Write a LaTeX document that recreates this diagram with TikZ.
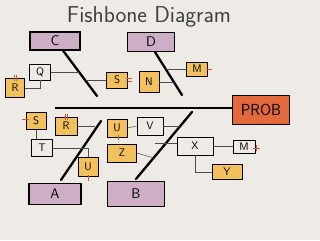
\documentclass[tikz,border=0pt]{standalone}
\usetikzlibrary{calc}
\definecolor{paper}{HTML}{EEEBE6}
\definecolor{lilac}{HTML}{CDAEC6}
\definecolor{amber}{HTML}{F2C15E}
\definecolor{probred}{HTML}{E2693C}
\definecolor{tickred}{HTML}{D9542B}
\tikzset{
  cause/.style={draw, line width=1.1pt, fill=lilac, inner sep=0pt,
    font=\sffamily\fontsize{14}{14}\selectfont},
  item/.style={draw, line width=0.6pt, inner sep=0pt, minimum width=21pt,
    minimum height=16pt, font=\sffamily\fontsize{11}{11}\selectfont},
  hot/.style={item, fill=amber},
  bone/.style={line width=2.3pt, line cap=round},
  link/.style={line width=0.5pt, black!70},
  tick/.style={tickred, line width=0.6pt},
}
\begin{document}
\begin{tikzpicture}[x=1pt,y=-1pt]
  \fill[paper] (0,0) rectangle (320,240);
  \useasboundingbox (0,0) rectangle (320,240);
  \node[font=\sffamily\fontsize{23}{23}\selectfont, black!75] (title) at (149,17) {Fishbone Diagram};

  % main causes and the problem
  \node[cause, minimum width=50pt, minimum height=18pt] (C) at (55,41) {C};
  \node[cause, minimum width=47pt, minimum height=19pt] (D) at (151,42) {D};
  \node[cause, minimum width=52pt, minimum height=21pt] (A) at (55,194) {A};
  \node[cause, minimum width=57pt, minimum height=25pt] (B) at (136,194) {B};
  \node[cause, fill=probred, minimum width=57pt, minimum height=29pt,
    font=\sffamily\fontsize{16}{16}\selectfont] (prob) at (261,110) {PROB};

  % bones
  \coordinate (tail) at (55,108);
  \coordinate (cEnd) at (97,96);
  \coordinate (dEnd) at (182,95);
  \coordinate (aEnd) at (101,121);
  \coordinate (bEnd) at (192,112);
  \draw[line width=2pt] (tail) -- (tail -| prob.west);
  \draw[bone] ($(C.south)+(8,0)$) -- (cEnd);
  \draw[bone] ($(D.south)+(4,0)$) -- (dEnd);
  \draw[bone] ($(A.north)+(6,-3)$) -- (aEnd);
  \draw[bone] ($(B.north)+(0,-2)$) -- (bEnd);

  % sub causes
  \node[item] (Q) at (40,72) {Q};
  \node[hot, minimum width=19pt, minimum height=19pt] (R1) at (15,88) {R};
  \node[hot] (S1) at (117,80) {S};
  \node[hot, minimum width=20pt, minimum height=21pt] (N) at (149,82) {N};
  \node[hot, minimum height=14pt] (M1) at (197,69) {M};
  \node[hot, minimum width=20pt, minimum height=17pt] (S2) at (36,121) {S};
  \node[item, minimum height=17pt] (T) at (42,148) {T};
  \node[hot, minimum width=22pt, minimum height=18pt] (R2) at (66,126) {R};
  \node[hot, minimum width=20pt, minimum height=19pt] (U2) at (88,167) {U};
  \node[hot, minimum width=20pt, minimum height=18pt] (U1) at (117,128) {U};
  \node[item, minimum width=26pt, minimum height=18pt] (V) at (150,126) {V};
  \node[hot, minimum width=29pt, minimum height=18pt] (Z) at (122,153) {Z};
  \node[item, minimum width=36pt, minimum height=18pt] (X) at (195,146) {X};
  \node[item, minimum width=22pt, minimum height=13pt] (M2) at (244,147) {M};
  \node[hot, minimum width=30pt, minimum height=15pt] (Y) at (227,172) {Y};

  % links onto the bones
  \coordinate (c1) at (79,72);
  \coordinate (c2) at (86,80);
  \coordinate (d1) at (166,69);
  \coordinate (d2) at (174,82);
  \coordinate (a1) at (95,126);
  \coordinate (a2) at (80,148);
  \coordinate (b1) at (180,126);
  \coordinate (b2) at (154,158);
  \coordinate (b3) at (155,143);
  \draw[link] (Q.east) -- (c1);
  \draw[link] (R1.east) -| (Q.south);
  \draw[link] (c2) -- (S1.west);
  \draw[link] (d1) -- (M1.west);
  \draw[link] (N.east) -- (d2);
  \draw[link] (R2.east) -- (a1);
  \draw[link] (S2.south) -- (S2.south |- T.north);
  \draw[link] (T.east) -- (a2);
  \draw[link] (a2) -| (U2.north);
  \draw[link] (U1.east) -- (V.west);
  \draw[link] (V.east) -- (b1);
  \draw[link] (Z.east) -- (b2);
  \draw[link] (b3) -- (b3 -| X.west);
  \draw[link] (X.east) -- (X.east -| M2.west);
  \draw[link] (X.south) |- (Y.west);

  % red tick marks
  \draw[tick] ($(R1.north)+(-1,-3)$) -- +(0,6) ($(R1.north)+(1,-3)$) -- +(0,6);
  \draw[tick] ($(S1.east)+(-2,-2)$) -- +(6,0) ($(S1.east)+(-2,1)$) -- +(6,0);
  \draw[tick] ($(M1.east)+(-2,0)$) -- +(6,0);
  \draw[tick] ($(S2.west)+(-4,-2)$) -- +(7,0);
  \draw[tick] ($(R2.north)+(-1,-3)$) -- +(0,6) ($(R2.north)+(1,-3)$) -- +(0,6);
  \draw[tick] ($(U2.south)+(0,-2)$) -- +(0,6);
  \draw[tick] ($(U1.south)+(1,-2)$) -- +(0,5);
  \draw[tick] ($(M2.east)+(-2,1)$) -- +(7,0) ($(M2.east)+(1,-2)$) -- +(0,6);
\end{tikzpicture}
\end{document}
